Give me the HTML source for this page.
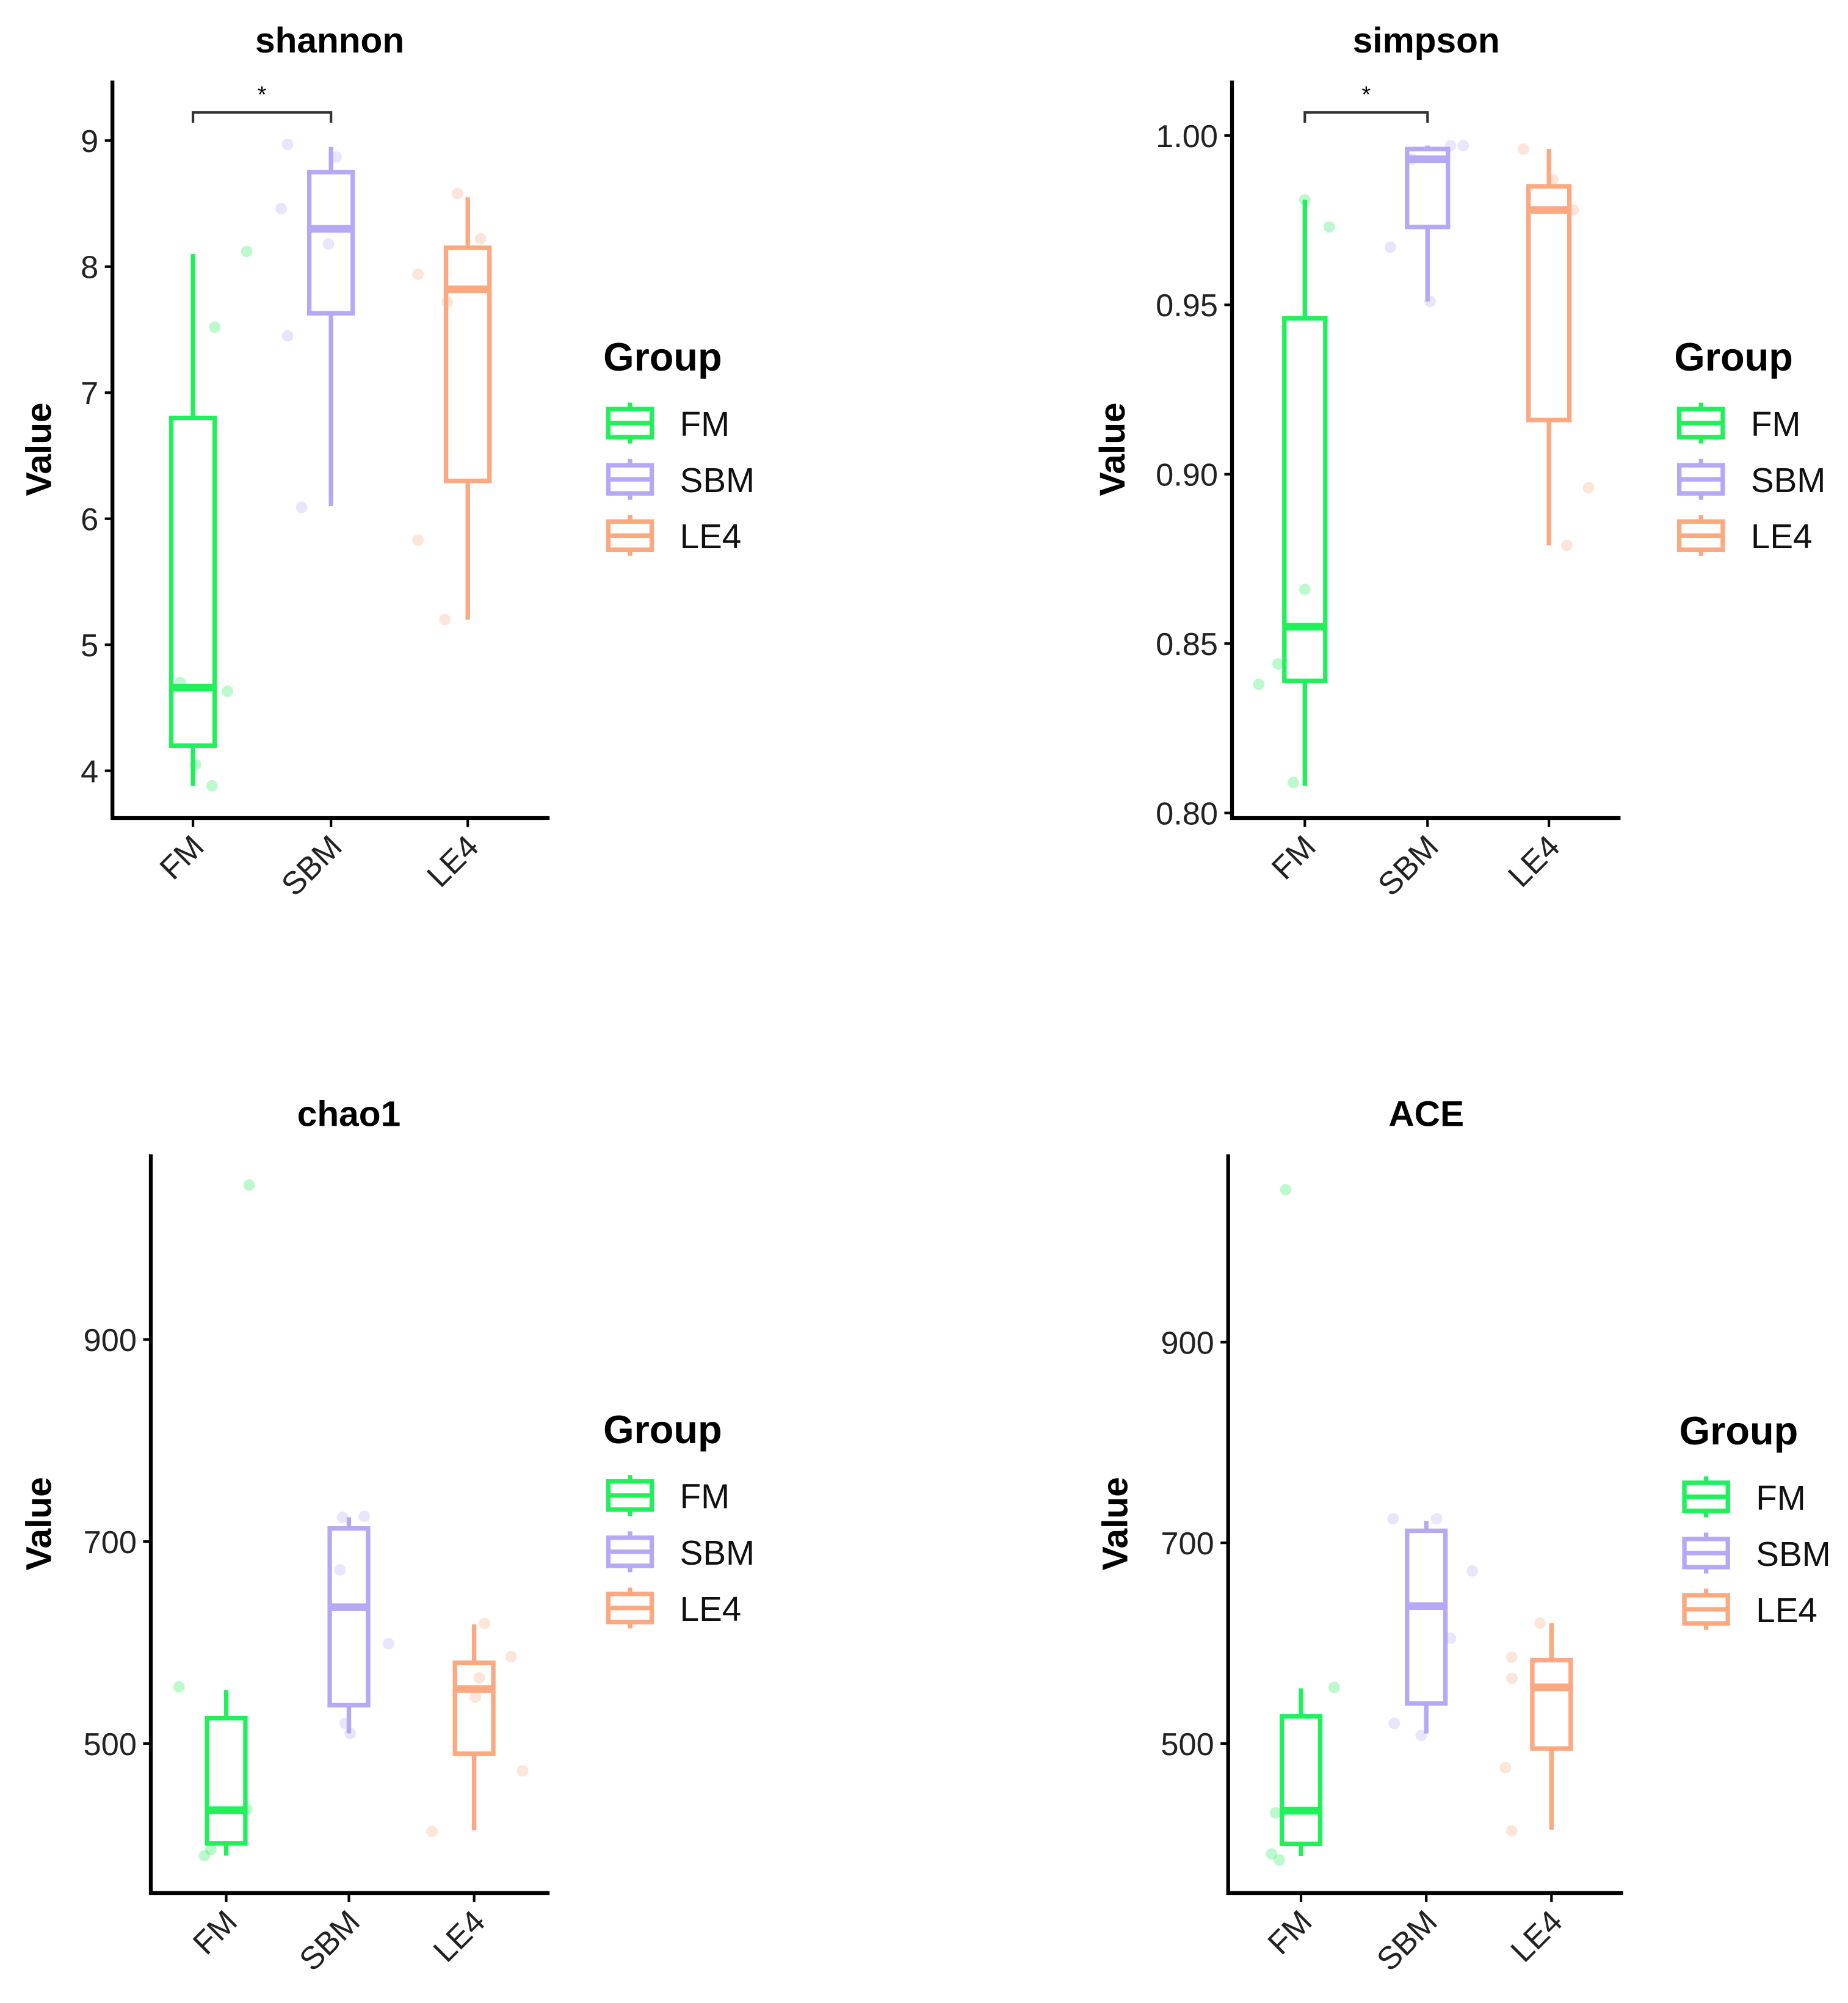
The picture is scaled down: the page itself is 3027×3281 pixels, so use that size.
<!DOCTYPE html>
<html><head><meta charset="utf-8"><style>
html,body{margin:0;padding:0;background:#fff;}
svg{display:block;font-family:"Liberation Sans",sans-serif;}
</style></head><body>
<svg id="chart" width="3027" height="3281" viewBox="0 0 1446 1567" preserveAspectRatio="none" xmlns="http://www.w3.org/2000/svg"></svg>
<script>
const groups = ["FM","SBM","LE4"];
const colors = ["#20f05a","#b6a8f4","#fca880"];
// box stats: [low, q1, median, q3, high]
const shannonBox = [[3.88,4.2,4.66,6.8,8.1],[6.1,7.63,8.3,8.75,8.95],[5.2,6.3,7.82,8.15,8.55]];
const shannonPts = [[8.12,7.52,4.63,4.7,4.05,3.88],[8.97,8.46,8.18,8.87,7.45,6.09],[7.94,5.83,5.2,8.58,8.22,7.72]];
const simpsonBox = [[0.808,0.839,0.855,0.946,0.981],[0.951,0.973,0.993,0.996,0.997],[0.879,0.916,0.978,0.985,0.996]];
const simpsonPts = [[0.809,0.838,0.844,0.866,0.973,0.981],[0.967,0.951,0.997,0.997,0.993],[0.996,0.879,0.896,0.978,0.987]];
const chaoBox = [[389,401,434,525,553],[510,538,635,713,724],[414,490,554,580,618]];
const chaoPts = [[556,1053,435,389,395],[724,725,672,599,510,520],[413,473,586,619,546,565]];
const aceBox = [[388,400,433,527,555],[510,540,637,712,722],[414,495,556,583,620]];
const acePts = [[1052,556,431,390,384],[724,724,672,605,520,508],[476,413,586,565,620]];
const shannonTicks = [4,5,6,7,8,9];
const simpsonTicks = [0.80,0.85,0.90,0.95,1.00];
const chaoTicks = [500,700,900];

const NS="http://www.w3.org/2000/svg";
const svg=document.getElementById('chart');
function mk(tag,attrs,parent){const e=document.createElementNS(NS,tag);for(const k in attrs)e.setAttribute(k,attrs[k]);(parent||svg).appendChild(e);return e;}

function panel(cfg){
  const g=mk('g',{});
  
  
  const y=v=>cfg.y0+(v-cfg.v0)*(cfg.y1-cfg.y0)/(cfg.v1-cfg.v0);
  const x=i=>cfg.cx[i];
  const t=mk('text',{x:cfg.titleX,y:cfg.top-22,'text-anchor':'middle','font-size':28,'font-weight':'bold'},g);
  t.textContent=cfg.title;
  
  
  const ax=mk('path',{d:`M${cfg.ax} ${cfg.top}V${cfg.bottom}H${cfg.right}`,stroke:'#000','stroke-width':3,fill:'none'},g);
  
  
  cfg.ticks.forEach(v=>{
    const yy=y(v);
    mk('line',{x1:cfg.ax-6,x2:cfg.ax,y1:yy,y2:yy,stroke:'#000','stroke-width':2},g);
    const tl=mk('text',{x:cfg.ax-11,y:yy+9,'text-anchor':'end','font-size':25,fill:'#222'},g);
    tl.textContent=cfg.fmt(v);
    
    
  });
  const yl=mk('text',{x:0,y:0,transform:`translate(${cfg.vx},${(cfg.top+cfg.bottom)/2}) rotate(-90)`,'text-anchor':'middle','font-size':28,'font-weight':'bold'},g);
  yl.textContent='Value';
  
  
  groups.forEach((gr,i)=>{
    const xx=x(i);
    mk('line',{x1:xx,x2:xx,y1:cfg.bottom,y2:cfg.bottom+7,stroke:'#000','stroke-width':2},g);
    const xl=mk('text',{x:0,y:0,transform:`translate(${xx+10},${cfg.bottom+24}) rotate(-45)`,'text-anchor':'end','font-size':25,fill:'#222'},g);
    xl.textContent=gr;
    
    
    cfg.pts[i].forEach((v,j)=>{
      const c=mk('circle',{cx:xx+cfg.jit[i][j],cy:y(v),r:4.5,fill:colors[i],opacity:0.3},g);
      
      
    });
    const b=cfg.box[i], w=cfg.bw/2;
    const bx=mk('g',{stroke:colors[i],'stroke-width':3.5,fill:'none'},g);
    
    
    mk('line',{x1:xx,x2:xx,y1:y(b[0]),y2:y(b[1])},bx);
    mk('line',{x1:xx,x2:xx,y1:y(b[3]),y2:y(b[4])},bx);
    mk('rect',{x:xx-w,y:y(b[3]),width:cfg.bw,height:y(b[1])-y(b[3])},bx);
    mk('line',{x1:xx-w,x2:xx+w,y1:y(b[2]),y2:y(b[2]),'stroke-width':6},bx);
  });
  if(cfg.sig){
    const s=mk('path',{d:`M${x(0)} 96V88H${x(1)}V96`,stroke:'#333','stroke-width':2,fill:'none'},g);
    
    
    const st=mk('text',{x:(x(0)+x(1))/2,y:80,'text-anchor':'middle','font-size':18},g);
    st.textContent='*';
    
    
  }
  const lg=mk('g',{},g);
  
  
  const gt=mk('text',{x:cfg.lx-4,y:cfg.ly,'font-size':31,'font-weight':'bold'},lg);
  gt.textContent='Group';
  groups.forEach((gr,i)=>{
    const cy=cfg.ly+41+i*44;
    const e=mk('g',{stroke:colors[i],'stroke-width':3.5,fill:'none'},lg);
    
    
    mk('rect',{x:cfg.lx,y:cy-11,width:34,height:22},e);
    mk('line',{x1:cfg.lx,x2:cfg.lx+34,y1:cy,y2:cy},e);
    mk('line',{x1:cfg.lx+17,x2:cfg.lx+17,y1:cy-16,y2:cy-11},e);
    mk('line',{x1:cfg.lx+17,x2:cfg.lx+17,y1:cy+11,y2:cy+16},e);
    const lt=mk('text',{x:cfg.lx+56,y:cy+10,'font-size':27,fill:'#111',stroke:'none'},lg);
    lt.textContent=gr;
  });
}
panel({name:'shannon',title:'shannon',titleX:258,ax:88,top:63,bottom:640,right:430,cx:[151,259,366],bw:34,vx:40,
  v0:9,y0:110,v1:4,y1:603,ticks:shannonTicks,fmt:v=>String(v),box:shannonBox,pts:shannonPts,sig:true,lx:476,ly:290,
  jit:[[42,17,27,-10,2,15],[-34,-39,-2,4,-34,-23],[-39,-39,-18,-8,10,-16]]});
panel({name:'simpson',title:'simpson',titleX:1116,ax:964,top:63,bottom:640,right:1268,cx:[1021,1117,1212],bw:32,vx:880,
  v0:1.0,y0:106,v1:0.8,y1:636,ticks:simpsonTicks,fmt:v=>v.toFixed(2),box:simpsonBox,pts:simpsonPts,sig:true,lx:1314,ly:290,
  jit:[[-9,-36,-21,0,19,0],[-29,2,18,28,-12],[-20,14,31,19,3]]});
panel({name:'chao1',title:'chao1',titleX:273,ax:118,top:903,bottom:1481,right:430,cx:[177,273,371],bw:30,vx:40,
  v0:900,y0:1048,v1:500,y1:1364,ticks:chaoTicks,fmt:v=>String(v),box:chaoBox,pts:chaoPts,sig:false,lx:476,ly:1129,
  jit:[[-37,18,16,-17,-12],[-5,12,-7,31,1,-3],[-33,38,29,8,1,4]]});
panel({name:'ace',title:'ACE',titleX:1116,ax:961,top:903,bottom:1481,right:1270,cx:[1018,1116,1214],bw:30,vx:882,
  v0:900,y0:1050,v1:500,y1:1364,ticks:chaoTicks,fmt:v=>String(v),box:aceBox,pts:acePts,sig:false,lx:1318,ly:1130,
  jit:[[-12,26,-20,-23,-17],[-26,8,36,19,-25,-4],[-36,-31,-31,-31,-9]]});
</script>
</body></html>
